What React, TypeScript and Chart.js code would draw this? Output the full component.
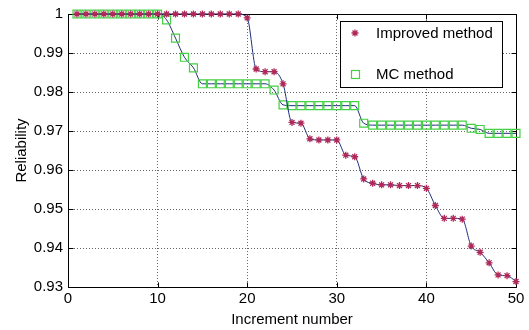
import React, { useEffect, useRef } from 'react';
import { Chart, registerables } from 'chart.js';

Chart.register(...registerables);

// ---- data ----
const increments = [
  1, 2, 3, 4, 5, 6, 7, 8, 9, 10,
  11, 12, 13, 14, 15, 16, 17, 18, 19, 20,
  21, 22, 23, 24, 25, 26, 27, 28, 29, 30,
  31, 32, 33, 34, 35, 36, 37, 38, 39, 40,
  41, 42, 43, 44, 45, 46, 47, 48, 49, 50,
];
const improvedMethod = [
  1, 1, 1, 1, 1, 1, 1, 1, 1, 1,
  1, 1, 1, 1, 1, 1, 1, 1, 1, 0.999,
  0.9859, 0.9852, 0.9852, 0.9821, 0.9722, 0.972, 0.968, 0.9677, 0.9677, 0.9677,
  0.9638, 0.9634, 0.9577, 0.9566, 0.9562, 0.9562, 0.956, 0.956, 0.956, 0.9553,
  0.9509, 0.9476, 0.9476, 0.9474, 0.9405, 0.9389, 0.9362, 0.9331, 0.9329, 0.9314,
];
const mcMethod = [
  1, 1, 1, 1, 1, 1, 1, 1, 1, 1,
  0.9985, 0.9938, 0.9889, 0.9862, 0.9821, 0.9821, 0.9821, 0.9821, 0.9821, 0.9821,
  0.9821, 0.9821, 0.9805, 0.9767, 0.9765, 0.9765, 0.9765, 0.9765, 0.9765, 0.9765,
  0.9765, 0.9765, 0.972, 0.9715, 0.9715, 0.9715, 0.9715, 0.9715, 0.9715, 0.9715,
  0.9715, 0.9715, 0.9715, 0.9715, 0.9707, 0.9704, 0.9694, 0.9694, 0.9694, 0.9694,
];
const xTickValues = [0, 10, 20, 30, 40, 50];
const yTickValues = [0.93, 0.94, 0.95, 0.96, 0.97, 0.98, 0.99, 1];
const seriesNames = ['Improved method', 'MC method'];
const xTitle = 'Increment number';
const yTitle = 'Reliability';

// ---- styles ----
const FONT = "'Liberation Sans', Arial, sans-serif";
const LINE_COLOR = '#1f2f7a';
const RED = '#b02858';
const GREEN = '#44d044';

function drawStar(ctx: CanvasRenderingContext2D, x: number, y: number, r: number, color: string) {
  ctx.save();
  ctx.strokeStyle = color;
  ctx.lineWidth = 1.3;
  ctx.beginPath();
  ctx.moveTo(x - r, y); ctx.lineTo(x + r, y);
  ctx.moveTo(x, y - r); ctx.lineTo(x, y + r);
  const d = r * Math.SQRT1_2;
  ctx.moveTo(x - d, y - d); ctx.lineTo(x + d, y + d);
  ctx.moveTo(x - d, y + d); ctx.lineTo(x + d, y - d);
  ctx.stroke();
  ctx.restore();
}

const framePlugin = {
  id: 'frame',
  beforeDatasetsDraw(chart: any) {
    const { ctx, chartArea: a, scales } = chart;
    ctx.save();
    ctx.strokeStyle = '#000';
    ctx.lineWidth = 1;
    ctx.beginPath();
    const L = Math.round(a.left) + 0.5, R = Math.round(a.right) + 0.5;
    const T = Math.round(a.top) + 0.5, B = Math.round(a.bottom) + 0.5;
    ctx.rect(L, T, R - L, B - T);
    const tl = 5;
    for (const v of yTickValues) {
      const y = Math.round(scales.y.getPixelForValue(v)) + 0.5;
      ctx.moveTo(L, y); ctx.lineTo(L + tl, y);
      ctx.moveTo(R, y); ctx.lineTo(R - tl, y);
    }
    for (const v of xTickValues) {
      const x = Math.round(scales.x.getPixelForValue(v)) + 0.5;
      ctx.moveTo(x, B); ctx.lineTo(x, B - tl);
      ctx.moveTo(x, T); ctx.lineTo(x, T + tl);
    }
    ctx.stroke();
    ctx.restore();
  },
  afterDraw(chart: any) {
    const { ctx } = chart;
    ctx.save();
    const bx = 340.5, by = 21.5, bw = 162, bh = 66;
    ctx.fillStyle = '#fff';
    ctx.fillRect(bx, by, bw, bh);
    ctx.strokeStyle = '#000';
    ctx.lineWidth = 1;
    ctx.strokeRect(bx, by, bw, bh);
    drawStar(ctx, 355, 33, 3.5, RED);
    ctx.strokeStyle = GREEN;
    ctx.lineWidth = 1.2;
    ctx.strokeRect(351.5, 70.5, 8, 8);
    ctx.fillStyle = '#000';
    ctx.font = `15px ${FONT}`;
    ctx.textBaseline = 'middle';
    ctx.textAlign = 'left';
    ctx.fillText(seriesNames[0], 376, 34);
    ctx.fillText(seriesNames[1], 376, 75);
    ctx.restore();
  },
};

export default function App() {
  const canvasRef = useRef<HTMLCanvasElement | null>(null);

  useEffect(() => {
    document.body.style.margin = '0';
    const canvas = canvasRef.current;
    if (!canvas) return;

    const toPoints = (vals: number[]) => increments.map((x, i) => ({ x, y: vals[i] }));

    const chart = new Chart(canvas, {
      type: 'line',
      data: {
        datasets: [
          {
            label: seriesNames[0],
            data: toPoints(improvedMethod),
            borderColor: LINE_COLOR,
            borderWidth: 1,
            cubicInterpolationMode: 'monotone',
            pointStyle: 'star',
            pointRadius: 3.5,
            pointBorderColor: RED,
            pointBackgroundColor: RED,
            pointBorderWidth: 1.3,
            fill: false,
            clip: false,
          },
          {
            label: seriesNames[1],
            data: toPoints(mcMethod),
            borderColor: LINE_COLOR,
            borderWidth: 1,
            cubicInterpolationMode: 'monotone',
            pointStyle: 'rect',
            pointRadius: 5.6,
            pointBorderColor: GREEN,
            pointBackgroundColor: 'rgba(0,0,0,0)',
            pointBorderWidth: 1.2,
            fill: false,
            clip: false,
          },
        ],
      },
      options: {
        responsive: false,
        animation: false,
        layout: { padding: { top: 14, right: 13, left: 0, bottom: 0 } },
        plugins: {
          legend: { display: false },
          tooltip: { enabled: false },
        },
        scales: {
          x: {
            type: 'linear',
            min: 0,
            max: 50,
            afterBuildTicks: (s: any) => { s.ticks = xTickValues.map((v) => ({ value: v })); },
            afterFit: (s: any) => { s.height = 43; },
            ticks: {
              font: { family: FONT, size: 15 },
              color: '#000',
              padding: 3,
              maxRotation: 0,
              autoSkip: false,
            },
            grid: { color: '#666', drawTicks: false, lineWidth: 1 },
            border: { display: false, dash: [1, 2] },
            title: {
              display: true,
              text: xTitle,
              font: { family: FONT, size: 15 },
              color: '#000',
              padding: { top: 0, bottom: 1 },
            },
          },
          y: {
            type: 'linear',
            min: 0.93,
            max: 1,
            afterBuildTicks: (s: any) => { s.ticks = yTickValues.map((v) => ({ value: v })); },
            afterFit: (s: any) => { s.width = 68; },
            ticks: {
              font: { family: FONT, size: 15 },
              color: '#000',
              padding: 5,
              autoSkip: false,
              callback: (v: any) => String(Number(Number(v).toFixed(2))),
            },
            grid: { color: '#666', drawTicks: false, lineWidth: 1 },
            border: { display: false, dash: [1, 2] },
            title: {
              display: true,
              text: yTitle,
              font: { family: FONT, size: 15 },
              color: '#000',
              padding: { top: 13, bottom: 0 },
            },
          },
        },
      },
      plugins: [framePlugin],
    } as any);

    return () => chart.destroy();
  }, []);

  return (
    <div style={{ width: 529, height: 330, background: '#fff' }}>
      <canvas ref={canvasRef} width={529} height={330} style={{ display: 'block' }} />
    </div>
  );
}
